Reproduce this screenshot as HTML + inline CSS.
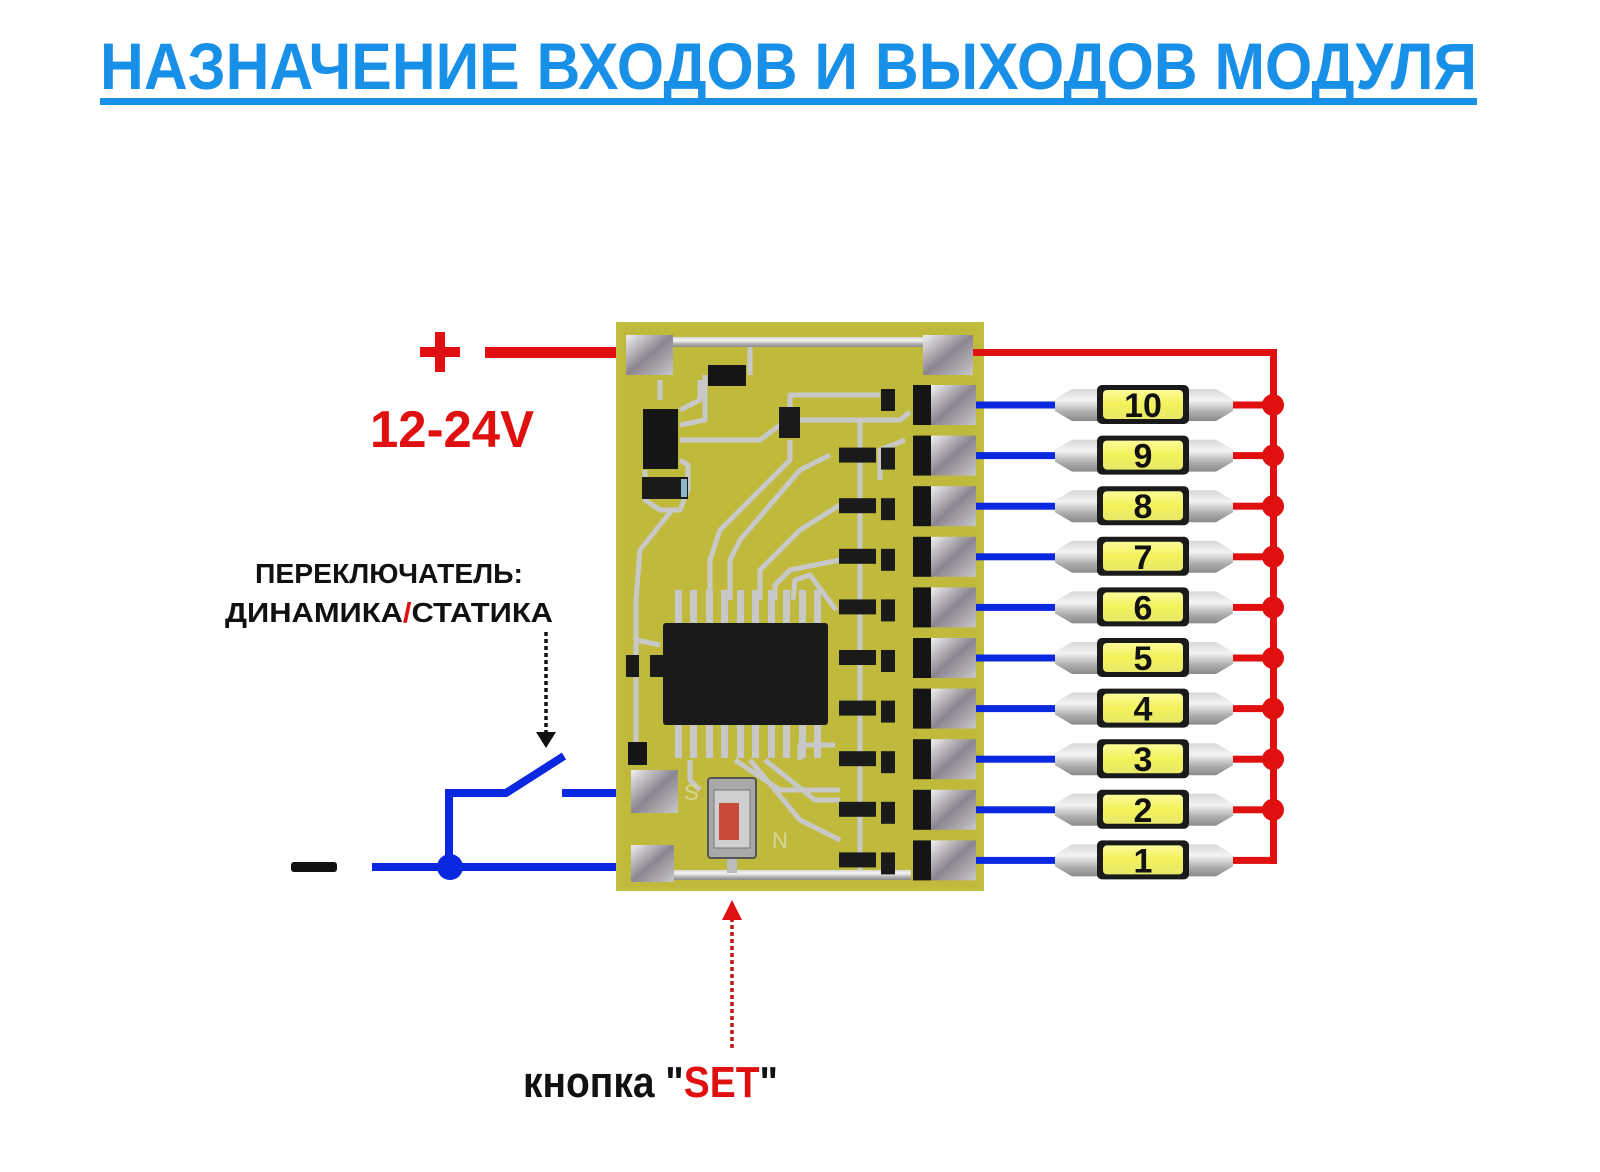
<!DOCTYPE html>
<html><head><meta charset="utf-8"><style>
html,body{margin:0;padding:0;background:#fff;}
svg{display:block;}
text{font-family:"Liberation Sans",sans-serif;font-weight:bold;}
</style></head><body>
<svg width="1600" height="1172" viewBox="0 0 1600 1172" xmlns="http://www.w3.org/2000/svg">
<defs>
<linearGradient id="sil" x1="0" y1="0" x2="0" y2="1">
<stop offset="0" stop-color="#d8d8d8"/><stop offset="0.35" stop-color="#f4f4f4"/><stop offset="0.7" stop-color="#b0b0b0"/><stop offset="1" stop-color="#8a8a8a"/>
</linearGradient>
<linearGradient id="pad" x1="0" y1="0" x2="1" y2="1">
<stop offset="0" stop-color="#f0f0f0"/><stop offset="0.5" stop-color="#8c8590"/><stop offset="1" stop-color="#c8c8c8"/>
</linearGradient>
<linearGradient id="yel" x1="0" y1="0" x2="0" y2="1">
<stop offset="0" stop-color="#fbfb9a"/><stop offset="0.5" stop-color="#f2f25a"/><stop offset="1" stop-color="#e8e86a"/>
</linearGradient>
</defs>

<!-- Title -->
<text x="100" y="89" font-size="66" fill="#1890e8" textLength="1377" lengthAdjust="spacingAndGlyphs">НАЗНАЧЕНИЕ ВХОДОВ И ВЫХОДОВ МОДУЛЯ</text>
<rect x="100" y="98" width="1377" height="7" fill="#1890e8"/>

<!-- plus -->
<rect x="420" y="347" width="40" height="10" fill="#e01010"/>
<rect x="435" y="332" width="10" height="40" fill="#e01010"/>
<rect x="485" y="347" width="135" height="11" fill="#e01010"/>
<text x="370" y="447" font-size="52" fill="#e01010" textLength="164" lengthAdjust="spacingAndGlyphs">12-24V</text>

<!-- switch labels -->
<text x="255" y="583" font-size="28" fill="#111" textLength="268" lengthAdjust="spacingAndGlyphs">ПЕРЕКЛЮЧАТЕЛЬ:</text>
<text x="225" y="622" font-size="28" fill="#111" textLength="328" lengthAdjust="spacingAndGlyphs">ДИНАМИКА<tspan fill="#e01010">/</tspan>СТАТИКА</text>
<line x1="546" y1="632" x2="546" y2="735" stroke="#111" stroke-width="3.5" stroke-dasharray="4,3"/>
<polygon points="536,732 556,732 546,748" fill="#111"/>

<!-- switch & minus -->
<rect x="291" y="862" width="46" height="10" rx="3" fill="#111"/>
<g stroke="#0a28e0" stroke-width="8" fill="none">
<line x1="372" y1="867" x2="634" y2="867"/>
<polyline points="449,867 449,793 506,793 564,756"/>
<line x1="562" y1="793" x2="634" y2="793"/>
</g>
<circle cx="450" cy="867" r="13" fill="#0a28e0"/>

<!-- SET arrow -->
<line x1="732" y1="1048" x2="732" y2="918" stroke="#c01818" stroke-width="3.5" stroke-dasharray="4,3"/>
<polygon points="722,920 742,920 732,900" fill="#e01010"/>
<text x="523" y="1097" font-size="44" fill="#111" textLength="255" lengthAdjust="spacingAndGlyphs">кнопка "<tspan fill="#e01010">SET</tspan>"</text>

<!-- PCB -->
<rect x="616" y="322" width="368" height="569" fill="#c2be3e"/>
<rect x="620" y="326" width="360" height="561" fill="#bdb83a" opacity="0.6"/>
<g stroke="#c8c8c8" stroke-width="5" fill="none" stroke-linejoin="round">
<polyline points="660,380 660,400"/>
<polyline points="700,380 700,400 680,410"/>
<polyline points="750,345 750,375"/>
<polyline points="705,375 705,420 680,425"/>
<polyline points="680,440 760,440 780,425"/>
<polyline points="790,420 790,395 880,395"/>
<polyline points="800,420 900,420 910,412"/>
<polyline points="645,470 645,500 660,510 680,510 688,490 688,465 680,460"/>
<polyline points="790,440 790,460 720,530 710,560 710,600"/>
<polyline points="830,455 800,470 740,540 730,560 730,600"/>
<polyline points="840,505 800,530 760,570 760,600"/>
<polyline points="840,560 790,570 775,585 775,600"/>
<polyline points="836,610 810,575 795,580 793,600"/>
<polyline points="672,510 640,550 636,600 636,760"/>
<polyline points="636,640 660,645"/>
<polyline points="690,760 690,780 700,790"/>
<polyline points="735,760 780,790 840,790"/>
<polyline points="750,760 800,820 840,840"/>
<polyline points="765,760 815,800 840,800"/>
<polyline points="800,760 800,745 835,745"/>
<polyline points="860,420 860,880"/>
<polyline points="905,440 880,450 880,480"/>
</g>
<!-- top trace & pads -->
<rect x="626" y="337" width="347" height="10" fill="url(#sil)"/>
<rect x="626" y="335" width="47" height="40" fill="url(#pad)"/>
<rect x="923" y="335" width="50" height="40" fill="url(#pad)"/>
<rect x="631" y="870" width="280" height="10" fill="url(#sil)"/>
<rect x="727" y="855" width="10" height="18" fill="#bbb"/>
<rect x="631" y="770" width="47" height="43" fill="url(#pad)"/>
<rect x="631" y="845" width="43" height="37" fill="url(#pad)"/>
<!-- components -->
<rect x="708" y="365" width="38" height="21" fill="#151515"/>
<rect x="643" y="409" width="35" height="60" fill="#151515"/>
<rect x="642" y="477" width="46" height="22" fill="#1a1a1a"/>
<rect x="681" y="479" width="6" height="18" fill="#8ab8c8"/>
<rect x="779" y="407" width="21" height="31" fill="#1a1a1a"/>
<rect x="628" y="742" width="19" height="23" fill="#151515"/>
<rect x="626" y="655" width="13" height="22" fill="#1a1a1a"/>
<rect x="650" y="655" width="13" height="22" fill="#1a1a1a"/>
<!-- IC -->
<rect x="663" y="623" width="165" height="102" rx="3" fill="#1a1a1a"/>
<g fill="#c8c8c8">
<rect x="675" y="590" width="7" height="33"/><rect x="690" y="590" width="7" height="33"/><rect x="706" y="590" width="7" height="33"/><rect x="721" y="590" width="7" height="33"/><rect x="737" y="590" width="7" height="33"/><rect x="752" y="590" width="7" height="33"/><rect x="768" y="590" width="7" height="33"/><rect x="783" y="590" width="7" height="33"/><rect x="799" y="590" width="7" height="33"/><rect x="814" y="590" width="7" height="33"/>
<rect x="675" y="725" width="7" height="33"/><rect x="690" y="725" width="7" height="33"/><rect x="706" y="725" width="7" height="33"/><rect x="721" y="725" width="7" height="33"/><rect x="737" y="725" width="7" height="33"/><rect x="752" y="725" width="7" height="33"/><rect x="768" y="725" width="7" height="33"/><rect x="783" y="725" width="7" height="33"/><rect x="799" y="725" width="7" height="33"/><rect x="814" y="725" width="7" height="33"/>
</g>
<!-- button -->
<rect x="708" y="778" width="48" height="80" rx="3" fill="#a8a8a8" stroke="#555" stroke-width="2"/>
<rect x="714" y="790" width="36" height="58" fill="#cfcfcf" stroke="#777" stroke-width="1"/>
<rect x="719" y="803" width="20" height="37" fill="#c84a3a"/>
<text x="684" y="800" font-size="22" fill="#d8d49a" style="font-weight:normal">S</text>
<text x="772" y="848" font-size="22" fill="#d8d49a" style="font-weight:normal">N</text>

<!-- rows -->
<g id="rows">
<!-- generated rows -->
<g transform="translate(0,405)"><rect x="913" y="-20" width="18" height="40" fill="#151515"/><rect x="931" y="-20" width="45" height="40" fill="url(#pad)"/><rect x="881" y="-16" width="14" height="22" fill="#1a1a1a"/><rect x="976" y="-3.5" width="79" height="7" fill="#0a28e0"/><polygon points="1055,-6 1072,-16 1100,-16 1100,16 1072,16 1055,6" fill="url(#sil)"/><polygon points="1233,-6 1216,-16 1186,-16 1186,16 1216,16 1233,6" fill="url(#sil)"/><rect x="1097" y="-20" width="92" height="39" rx="5" fill="#1a1a1a"/><rect x="1103" y="-15" width="80" height="29" rx="4" fill="url(#yel)"/><text x="1143" y="12" font-size="34" fill="#111" text-anchor="middle">10</text><rect x="1233" y="-3.5" width="40" height="7" fill="#e01010"/><circle cx="1273" cy="0" r="11" fill="#e01010"/></g>
<g transform="translate(0,455.6)"><rect x="839" y="-8" width="37" height="15" fill="#1a1a1a"/><rect x="913" y="-20" width="18" height="40" fill="#151515"/><rect x="931" y="-20" width="45" height="40" fill="url(#pad)"/><rect x="881" y="-8" width="14" height="22" fill="#1a1a1a"/><rect x="976" y="-3.5" width="79" height="7" fill="#0a28e0"/><polygon points="1055,-6 1072,-16 1100,-16 1100,16 1072,16 1055,6" fill="url(#sil)"/><polygon points="1233,-6 1216,-16 1186,-16 1186,16 1216,16 1233,6" fill="url(#sil)"/><rect x="1097" y="-20" width="92" height="39" rx="5" fill="#1a1a1a"/><rect x="1103" y="-15" width="80" height="29" rx="4" fill="url(#yel)"/><text x="1143" y="12" font-size="34" fill="#111" text-anchor="middle">9</text><rect x="1233" y="-3.5" width="40" height="7" fill="#e01010"/><circle cx="1273" cy="0" r="11" fill="#e01010"/></g>
<g transform="translate(0,506.2)"><rect x="839" y="-8" width="37" height="15" fill="#1a1a1a"/><rect x="913" y="-20" width="18" height="40" fill="#151515"/><rect x="931" y="-20" width="45" height="40" fill="url(#pad)"/><rect x="881" y="-8" width="14" height="22" fill="#1a1a1a"/><rect x="976" y="-3.5" width="79" height="7" fill="#0a28e0"/><polygon points="1055,-6 1072,-16 1100,-16 1100,16 1072,16 1055,6" fill="url(#sil)"/><polygon points="1233,-6 1216,-16 1186,-16 1186,16 1216,16 1233,6" fill="url(#sil)"/><rect x="1097" y="-20" width="92" height="39" rx="5" fill="#1a1a1a"/><rect x="1103" y="-15" width="80" height="29" rx="4" fill="url(#yel)"/><text x="1143" y="12" font-size="34" fill="#111" text-anchor="middle">8</text><rect x="1233" y="-3.5" width="40" height="7" fill="#e01010"/><circle cx="1273" cy="0" r="11" fill="#e01010"/></g>
<g transform="translate(0,556.8)"><rect x="839" y="-8" width="37" height="15" fill="#1a1a1a"/><rect x="913" y="-20" width="18" height="40" fill="#151515"/><rect x="931" y="-20" width="45" height="40" fill="url(#pad)"/><rect x="881" y="-8" width="14" height="22" fill="#1a1a1a"/><rect x="976" y="-3.5" width="79" height="7" fill="#0a28e0"/><polygon points="1055,-6 1072,-16 1100,-16 1100,16 1072,16 1055,6" fill="url(#sil)"/><polygon points="1233,-6 1216,-16 1186,-16 1186,16 1216,16 1233,6" fill="url(#sil)"/><rect x="1097" y="-20" width="92" height="39" rx="5" fill="#1a1a1a"/><rect x="1103" y="-15" width="80" height="29" rx="4" fill="url(#yel)"/><text x="1143" y="12" font-size="34" fill="#111" text-anchor="middle">7</text><rect x="1233" y="-3.5" width="40" height="7" fill="#e01010"/><circle cx="1273" cy="0" r="11" fill="#e01010"/></g>
<g transform="translate(0,607.4)"><rect x="839" y="-8" width="37" height="15" fill="#1a1a1a"/><rect x="913" y="-20" width="18" height="40" fill="#151515"/><rect x="931" y="-20" width="45" height="40" fill="url(#pad)"/><rect x="881" y="-8" width="14" height="22" fill="#1a1a1a"/><rect x="976" y="-3.5" width="79" height="7" fill="#0a28e0"/><polygon points="1055,-6 1072,-16 1100,-16 1100,16 1072,16 1055,6" fill="url(#sil)"/><polygon points="1233,-6 1216,-16 1186,-16 1186,16 1216,16 1233,6" fill="url(#sil)"/><rect x="1097" y="-20" width="92" height="39" rx="5" fill="#1a1a1a"/><rect x="1103" y="-15" width="80" height="29" rx="4" fill="url(#yel)"/><text x="1143" y="12" font-size="34" fill="#111" text-anchor="middle">6</text><rect x="1233" y="-3.5" width="40" height="7" fill="#e01010"/><circle cx="1273" cy="0" r="11" fill="#e01010"/></g>
<g transform="translate(0,658)"><rect x="839" y="-8" width="37" height="15" fill="#1a1a1a"/><rect x="913" y="-20" width="18" height="40" fill="#151515"/><rect x="931" y="-20" width="45" height="40" fill="url(#pad)"/><rect x="881" y="-8" width="14" height="22" fill="#1a1a1a"/><rect x="976" y="-3.5" width="79" height="7" fill="#0a28e0"/><polygon points="1055,-6 1072,-16 1100,-16 1100,16 1072,16 1055,6" fill="url(#sil)"/><polygon points="1233,-6 1216,-16 1186,-16 1186,16 1216,16 1233,6" fill="url(#sil)"/><rect x="1097" y="-20" width="92" height="39" rx="5" fill="#1a1a1a"/><rect x="1103" y="-15" width="80" height="29" rx="4" fill="url(#yel)"/><text x="1143" y="12" font-size="34" fill="#111" text-anchor="middle">5</text><rect x="1233" y="-3.5" width="40" height="7" fill="#e01010"/><circle cx="1273" cy="0" r="11" fill="#e01010"/></g>
<g transform="translate(0,708.6)"><rect x="839" y="-8" width="37" height="15" fill="#1a1a1a"/><rect x="913" y="-20" width="18" height="40" fill="#151515"/><rect x="931" y="-20" width="45" height="40" fill="url(#pad)"/><rect x="881" y="-8" width="14" height="22" fill="#1a1a1a"/><rect x="976" y="-3.5" width="79" height="7" fill="#0a28e0"/><polygon points="1055,-6 1072,-16 1100,-16 1100,16 1072,16 1055,6" fill="url(#sil)"/><polygon points="1233,-6 1216,-16 1186,-16 1186,16 1216,16 1233,6" fill="url(#sil)"/><rect x="1097" y="-20" width="92" height="39" rx="5" fill="#1a1a1a"/><rect x="1103" y="-15" width="80" height="29" rx="4" fill="url(#yel)"/><text x="1143" y="12" font-size="34" fill="#111" text-anchor="middle">4</text><rect x="1233" y="-3.5" width="40" height="7" fill="#e01010"/><circle cx="1273" cy="0" r="11" fill="#e01010"/></g>
<g transform="translate(0,759.2)"><rect x="839" y="-8" width="37" height="15" fill="#1a1a1a"/><rect x="913" y="-20" width="18" height="40" fill="#151515"/><rect x="931" y="-20" width="45" height="40" fill="url(#pad)"/><rect x="881" y="-8" width="14" height="22" fill="#1a1a1a"/><rect x="976" y="-3.5" width="79" height="7" fill="#0a28e0"/><polygon points="1055,-6 1072,-16 1100,-16 1100,16 1072,16 1055,6" fill="url(#sil)"/><polygon points="1233,-6 1216,-16 1186,-16 1186,16 1216,16 1233,6" fill="url(#sil)"/><rect x="1097" y="-20" width="92" height="39" rx="5" fill="#1a1a1a"/><rect x="1103" y="-15" width="80" height="29" rx="4" fill="url(#yel)"/><text x="1143" y="12" font-size="34" fill="#111" text-anchor="middle">3</text><rect x="1233" y="-3.5" width="40" height="7" fill="#e01010"/><circle cx="1273" cy="0" r="11" fill="#e01010"/></g>
<g transform="translate(0,809.8)"><rect x="839" y="-8" width="37" height="15" fill="#1a1a1a"/><rect x="913" y="-20" width="18" height="40" fill="#151515"/><rect x="931" y="-20" width="45" height="40" fill="url(#pad)"/><rect x="881" y="-8" width="14" height="22" fill="#1a1a1a"/><rect x="976" y="-3.5" width="79" height="7" fill="#0a28e0"/><polygon points="1055,-6 1072,-16 1100,-16 1100,16 1072,16 1055,6" fill="url(#sil)"/><polygon points="1233,-6 1216,-16 1186,-16 1186,16 1216,16 1233,6" fill="url(#sil)"/><rect x="1097" y="-20" width="92" height="39" rx="5" fill="#1a1a1a"/><rect x="1103" y="-15" width="80" height="29" rx="4" fill="url(#yel)"/><text x="1143" y="12" font-size="34" fill="#111" text-anchor="middle">2</text><rect x="1233" y="-3.5" width="40" height="7" fill="#e01010"/><circle cx="1273" cy="0" r="11" fill="#e01010"/></g>
<g transform="translate(0,860.4)"><rect x="839" y="-8" width="37" height="15" fill="#1a1a1a"/><rect x="913" y="-20" width="18" height="40" fill="#151515"/><rect x="931" y="-20" width="45" height="40" fill="url(#pad)"/><rect x="881" y="-8" width="14" height="22" fill="#1a1a1a"/><rect x="976" y="-3.5" width="79" height="7" fill="#0a28e0"/><polygon points="1055,-6 1072,-16 1100,-16 1100,16 1072,16 1055,6" fill="url(#sil)"/><polygon points="1233,-6 1216,-16 1186,-16 1186,16 1216,16 1233,6" fill="url(#sil)"/><rect x="1097" y="-20" width="92" height="39" rx="5" fill="#1a1a1a"/><rect x="1103" y="-15" width="80" height="29" rx="4" fill="url(#yel)"/><text x="1143" y="12" font-size="34" fill="#111" text-anchor="middle">1</text><rect x="1233" y="-3.5" width="44" height="7" fill="#e01010"/></g>
</g>

<!-- red bus -->
<rect x="973" y="349" width="304" height="7" fill="#e01010"/>
<rect x="1270" y="349" width="7" height="515" fill="#e01010"/>
</svg>
</body></html>
